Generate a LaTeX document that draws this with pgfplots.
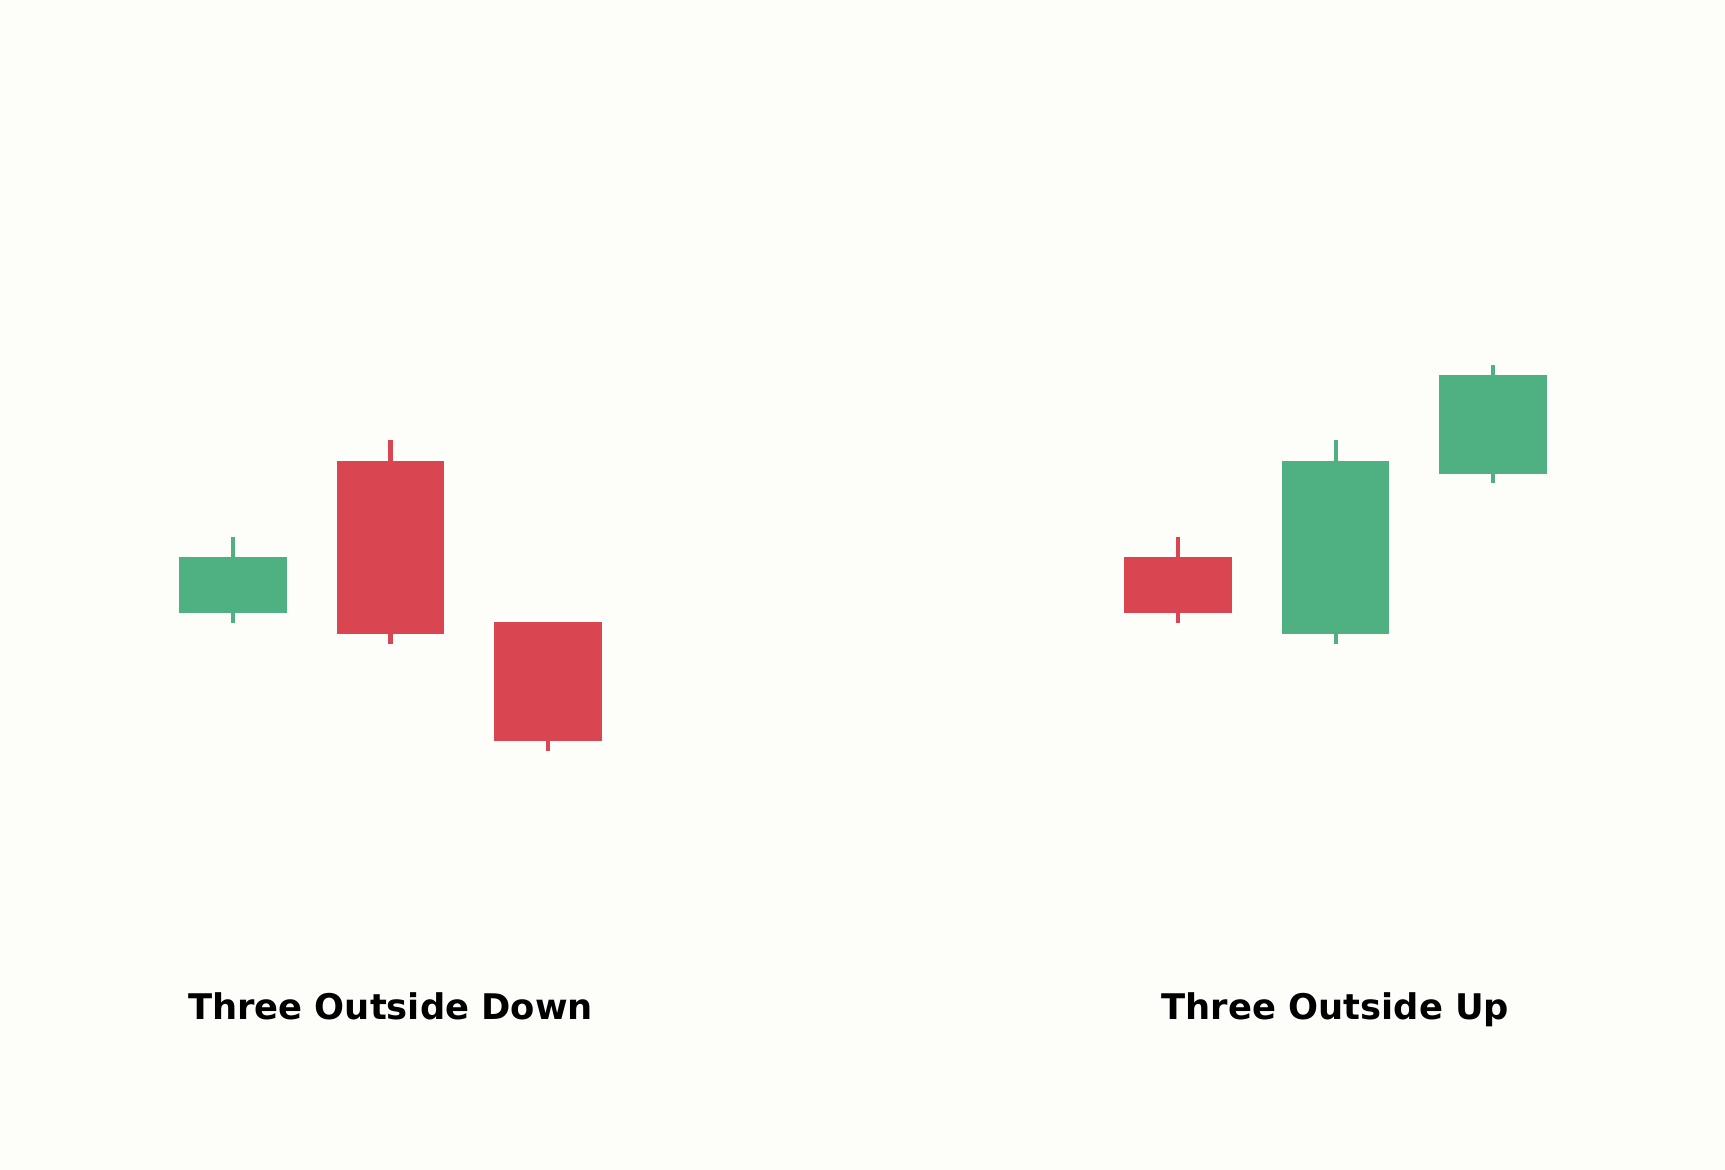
\documentclass[border=0pt]{standalone}
\usepackage{pgfplots}
\pgfplotsset{compat=1.18}
\usepackage{fontspec}
\setmainfont{DejaVu Sans}
\definecolor{bg}{HTML}{FDFDF9}
\definecolor{up}{HTML}{4FB081}
\definecolor{dn}{HTML}{D94651}
\newcommand{\candle}[6]{% pos, low, bodylow, bodyhigh, high, colour
  \addplot[draw=#6, line width=1.15pt, mark=none] coordinates {(#1,#2) (#1,#5)};
  \addplot[fill=#6, draw=none, mark=none] coordinates {(#1-0.34,#3) (#1+0.34,#3) (#1+0.34,#4) (#1-0.34,#4)} -- cycle;
}
\begin{document}
\begin{tikzpicture}
\begin{axis}[
  scale only axis, width=17.25cm, height=11.7cm,
  xmin=-1.4794, xmax=9.473, ymin=-17, ymax=100,
  axis lines=none, ticks=none,
  axis background/.style={fill=bg},
]
% Three Outside Down
\candle{0}{37.73}{38.73}{44.30}{46.30}{up}
\candle{1}{35.63}{36.63}{53.90}{56.00}{dn}
\candle{2}{24.93}{25.93}{37.80}{37.80}{dn}
% Three Outside Up
\candle{6}{37.73}{38.73}{44.30}{46.30}{dn}
\candle{7}{35.63}{36.63}{53.90}{56.00}{up}
\candle{8}{51.73}{52.63}{62.50}{63.50}{up}
\node[anchor=base, font=\fontsize{10.05pt}{12pt}\bfseries] at (axis cs:1,-1.93) {Three Outside Down};
\node[anchor=base, font=\fontsize{10.05pt}{12pt}\bfseries] at (axis cs:7,-1.93) {Three Outside Up};
\end{axis}
\end{tikzpicture}
\end{document}
